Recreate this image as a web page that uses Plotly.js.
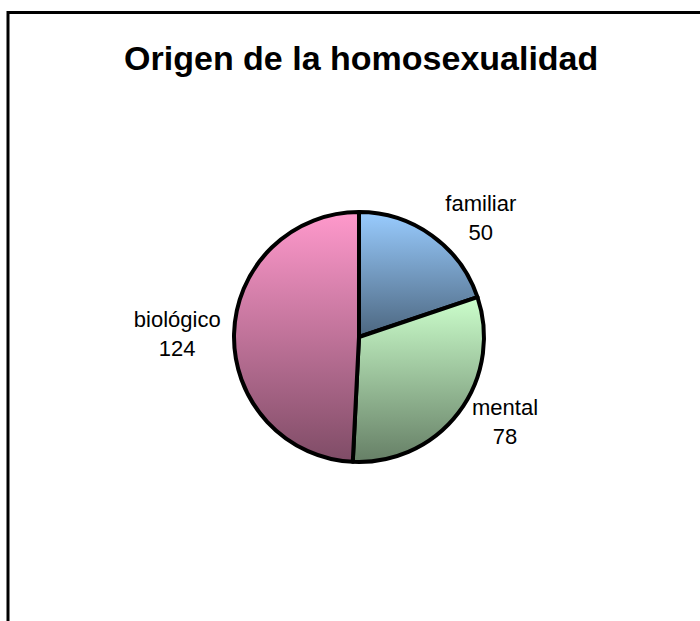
<!DOCTYPE html>
<html>
<head>
<meta charset="utf-8">
<script src="https://cdn.plot.ly/plotly-3.0.1.min.js"></script>
<style>html,body{margin:0;padding:0;background:#fff;}</style>
</head>
<body>
<div id="chart" style="width:700px;height:621px;"></div>
<script>
const categories = ["familiar", "mental", "biológico"];
const values = [50, 78, 124];
const chartTitle = "Origen de la homosexualidad";
const gradTop = ["#99CCFF", "#CCFFCC", "#FF99CC"];
const gradBottom = ["#4C667F", "#667F66", "#7F4C66"];

const trace = {
  type: "pie",
  labels: categories,
  values: values,
  sort: false,
  direction: "clockwise",
  rotation: 0,
  marker: { colors: gradTop, line: { color: "#000", width: 4 } },
  texttemplate: "%{label}<br>%{value}",
  textposition: "outside",
  textfont: { family: "Liberation Sans, Arial, sans-serif", size: 22, color: "#000" },
  domain: { x: [0.3343, 0.6914], y: [0.2560, 0.6586] },
  hoverinfo: "none",
  automargin: false
};

const layout = {
  width: 700, height: 621,
  margin: { l: 0, r: 0, t: 0, b: 0 },
  paper_bgcolor: "#fff",
  showlegend: false,
  title: {
    text: "<b>" + chartTitle + "</b>",
    font: { family: "Liberation Sans, Arial, sans-serif", size: 34, color: "#000" },
    x: 0.516, xanchor: "center", y: 0.906, yanchor: "middle"
  },
  shapes: [
    { type: "line", xref: "paper", yref: "paper", x0: 8/700, x1: 1.02, y0: 1 - 12.5/621, y1: 1 - 12.5/621, line: { color: "#000", width: 3 } },
    { type: "line", xref: "paper", yref: "paper", x0: 8/700, x1: 8/700, y0: 1 - 11/621, y1: -0.02, line: { color: "#000", width: 3 } }
  ]
};

Plotly.newPlot("chart", [trace], layout, { displayModeBar: false, staticPlot: true }).then(function (gd) {
  const svg = gd.querySelector("svg.main-svg");
  const ns = "http://www.w3.org/2000/svg";
  let defs = svg.querySelector("defs");
  if (!defs) { defs = document.createElementNS(ns, "defs"); svg.insertBefore(defs, svg.firstChild); }
  categories.forEach(function (c, i) {
    const lg = document.createElementNS(ns, "linearGradient");
    lg.setAttribute("id", "sliceGrad" + i);
    lg.setAttribute("x1", "0"); lg.setAttribute("y1", "0");
    lg.setAttribute("x2", "0"); lg.setAttribute("y2", "1");
    const s1 = document.createElementNS(ns, "stop");
    s1.setAttribute("offset", "0"); s1.setAttribute("stop-color", gradTop[i]);
    const s2 = document.createElementNS(ns, "stop");
    s2.setAttribute("offset", "1"); s2.setAttribute("stop-color", gradBottom[i]);
    lg.appendChild(s1); lg.appendChild(s2);
    defs.appendChild(lg);
  });
  const paths = gd.querySelectorAll("g.slice path.surface");
  paths.forEach(function (p, i) {
    p.style.fill = "url(#sliceGrad" + i + ")";
  });
});
</script>
</body>
</html>
